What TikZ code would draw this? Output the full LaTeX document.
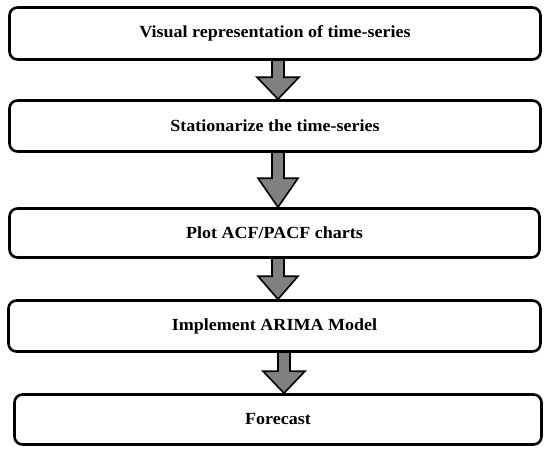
\documentclass[tikz,border=0pt]{standalone}
\usepackage{fontspec}
\setmainfont{Liberation Serif}
\usetikzlibrary{calc,backgrounds}
\definecolor{arrowgray}{RGB}{128,128,128}
\tikzset{
  stepbox/.style={draw=black, line width=2.6pt, rounded corners=8pt, fill=white,
    inner sep=0pt, font=\fontsize{17}{20}\selectfont\bfseries},
  barrow/.style={draw=black, line width=1.6pt, fill=arrowgray, line join=miter},
}
\newcommand\boxtext[1]{\scalebox{1.06}[1]{#1}}
\newcommand\myblockarrow[5]{% from, to, xshift, head length, head half width
  \draw[barrow] let \p1=(#1.south), \p2=(#2.north) in
    (\x1+#3-6pt,\y1+2pt) -- (\x1+#3-6pt,\y2+#4) -- (\x1+#3-#5,\y2+#4) --
    (\x1+#3,\y2) -- (\x1+#3+#5,\y2+#4) -- (\x1+#3+6pt,\y2+#4) --
    (\x1+#3+6pt,\y1+2pt) -- cycle;}
\begin{document}
\begin{tikzpicture}[x=1pt,y=-1pt]
\useasboundingbox (0,0) rectangle (544,448);
\node[stepbox, minimum width=531pt, minimum height=52pt] (b1) at (275,33.5) {\boxtext{Visual representation of time-series}};
\node[stepbox, minimum width=531pt, minimum height=51pt] (b2) at (275,126) {\boxtext{Stationarize the time-series}};
\node[stepbox, minimum width=530pt, minimum height=49pt] (b3) at (274.5,233) {\boxtext{Plot ACF/PACF charts}};
\node[stepbox, minimum width=532pt, minimum height=51pt] (b4) at (274.5,326) {\boxtext{Implement ARIMA Model}};
\node[stepbox, minimum width=527pt, minimum height=50pt] (b5) at (278,419.5) {\boxtext{Forecast}};
\begin{scope}[on background layer]
\myblockarrow{b1}{b2}{3pt}{22pt}{21pt}
\myblockarrow{b2}{b3}{3pt}{29pt}{20pt}
\myblockarrow{b3}{b4}{3.5pt}{23pt}{20pt}
\myblockarrow{b4}{b5}{9.5pt}{22pt}{21pt}
\end{scope}
\end{tikzpicture}
\end{document}
